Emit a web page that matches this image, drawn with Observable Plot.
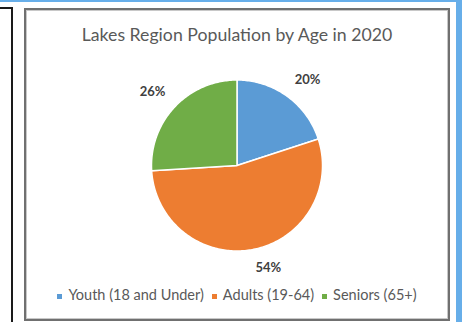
<!DOCTYPE html>
<html><head><meta charset="utf-8">
<script src="https://cdn.jsdelivr.net/npm/d3@7"></script>
<script src="https://cdn.jsdelivr.net/npm/@observablehq/plot@0.6"></script>
<style>
html,body{margin:0;padding:0;background:#fff;}
body{width:462px;height:322px;overflow:hidden;position:relative;font-family:Lato,"Open Sans",sans-serif;}
#chart{position:absolute;left:0;top:0;}
.deco{position:absolute;pointer-events:none;}
.blue-top{left:0;top:0;width:462px;height:2px;background:#67aee9;}
.blue-right{left:456px;top:0;width:6px;height:322px;background:#67aee9;}
.black-v{left:11px;top:7px;width:2px;height:315px;background:#1a1a1a;}
.black-h{left:0;top:7px;width:13px;height:2px;background:#1a1a1a;}
.box{left:24px;top:8px;width:426px;height:313px;box-sizing:border-box;border:2px solid #707070;box-shadow:inset 0 0 0 1px #c8c8c8;}
#title{position:absolute;left:24px;width:426px;top:26px;text-align:center;font-size:17.7px;line-height:1;color:#595959;white-space:nowrap;}
#legend{position:absolute;left:24px;width:426px;top:288px;display:flex;justify-content:center;font-size:14.5px;line-height:1;color:#595959;white-space:nowrap;}
.item{display:flex;align-items:center;margin:0 4px;}
.sw{width:5px;height:5px;margin-right:6px;margin-top:3px;}
</style>
</head><body>
<div id="chart"></div>
<div class="deco blue-top"></div>
<div class="deco blue-right"></div>
<div class="deco black-v"></div>
<div class="deco black-h"></div>
<div class="deco box"></div>
<div id="title">Lakes Region Population by Age in 2020</div>
<div id="legend"></div>
<script>
const categories = ["Youth (18 and Under)", "Adults (19-64)", "Seniors (65+)"];
const shares = [20, 54, 26];
const colors = ["#5b9bd5", "#ed7d31", "#70ad47"];
const pctLabels = ["20%", "54%", "26%"];

const total = d3.sum(shares);
const slicePts = [];
const labelPts = [];
let cum = 0;
categories.forEach((cat, i) => {
  const a0 = cum / total * 2 * Math.PI;
  const a1 = (cum + shares[i]) / total * 2 * Math.PI;
  slicePts.push({cat, x: 0, y: 0});
  const steps = Math.max(2, Math.ceil((a1 - a0) / (Math.PI / 180)));
  for (let k = 0; k <= steps; k++) {
    const a = a0 + (a1 - a0) * k / steps;
    slicePts.push({cat, x: Math.sin(a), y: Math.cos(a)});
  }
  slicePts.push({cat, x: 0, y: 0});
  const m = (a0 + a1) / 2;
  const sx = Math.sin(m), sy = Math.cos(m);
  labelPts.push({
    text: pctLabels[i],
    x: 1.15 * sx + 0.15 * Math.sign(sx),
    y: 1.15 * sy + 0.07 * Math.sign(sy)
  });
  cum += shares[i];
});

const plot = Plot.plot({
  width: 462,
  height: 322,
  margin: 0,
  style: {background: "none", overflow: "visible"},
  x: {domain: [-1, 1], range: [151, 322], axis: null},
  y: {domain: [-1, 1], range: [250.5, 79.5], axis: null},
  color: {domain: categories, range: colors},
  marks: [
    Plot.line(slicePts, {x: "x", y: "y", z: "cat", fill: "cat", stroke: "white", strokeWidth: 1.5, curve: "linear", strokeLinejoin: "round"}),
    Plot.text(labelPts, {x: "x", y: "y", text: "text", fontWeight: "bold", fontSize: 13, fill: "#404040", fontFamily: "Lato, 'Open Sans', sans-serif"})
  ]
});
document.getElementById("chart").appendChild(plot);

const legend = document.getElementById("legend");
categories.forEach((c, i) => {
  const it = document.createElement("div");
  it.className = "item";
  const sw = document.createElement("div");
  sw.className = "sw";
  sw.style.background = colors[i];
  const t = document.createElement("span");
  t.textContent = c;
  it.appendChild(sw);
  it.appendChild(t);
  legend.appendChild(it);
});
</script>
</body></html>
